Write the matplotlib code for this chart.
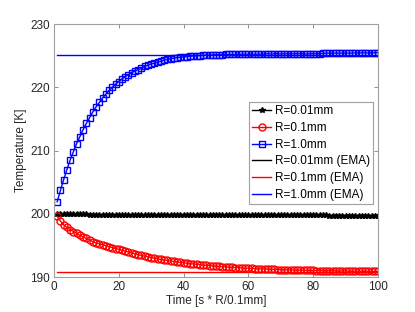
import matplotlib
matplotlib.use("Agg")
import matplotlib.pyplot as plt

plt.rcParams['font.family'] = ['Liberation Sans', 'DejaVu Sans']

# time steps
t = list(range(1, 101))

# R = 0.01 mm
T_001 = [199.9, 199.9, 199.9, 199.9, 199.9, 199.9, 199.9, 199.9, 199.9, 199.9,
         199.88, 199.88, 199.88, 199.88, 199.88, 199.88, 199.87, 199.87, 199.87, 199.87,
         199.86, 199.86, 199.86, 199.86, 199.85, 199.85, 199.85, 199.85, 199.85, 199.85,
         199.84, 199.84, 199.84, 199.84, 199.83, 199.83, 199.83, 199.83, 199.82, 199.82,
         199.82, 199.82, 199.81, 199.81, 199.81, 199.81, 199.8, 199.8, 199.8, 199.8,
         199.8, 199.8, 199.79, 199.79, 199.79, 199.79, 199.79, 199.78, 199.78, 199.78,
         199.78, 199.78, 199.77, 199.77, 199.77, 199.77, 199.77, 199.76, 199.76, 199.76,
         199.76, 199.76, 199.75, 199.75, 199.75, 199.75, 199.75, 199.75, 199.74, 199.74,
         199.74, 199.74, 199.74, 199.74, 199.73, 199.73, 199.73, 199.73, 199.73, 199.73,
         199.72, 199.72, 199.72, 199.72, 199.72, 199.72, 199.71, 199.71, 199.71, 199.71]

# R = 0.1 mm
T_01 = [199.6, 198.85, 198.25, 197.85, 197.5, 197.2, 196.9, 196.6, 196.35, 196.1,
        195.85, 195.6, 195.4, 195.25, 195.1, 194.95, 194.8, 194.65, 194.5, 194.4,
        194.24, 194.09, 193.95, 193.8, 193.67, 193.54, 193.42, 193.3, 193.18, 193.09,
        192.98, 192.89, 192.79, 192.7, 192.62, 192.54, 192.46, 192.39, 192.32, 192.25,
        192.19, 192.12, 192.07, 192.01, 191.96, 191.91, 191.85, 191.81, 191.76, 191.72,
        191.68, 191.64, 191.6, 191.57, 191.53, 191.5, 191.47, 191.44, 191.41, 191.39,
        191.36, 191.34, 191.31, 191.29, 191.27, 191.25, 191.22, 191.21, 191.19, 191.17,
        191.16, 191.14, 191.12, 191.11, 191.09, 191.08, 191.07, 191.05, 191.05, 191.04,
        191.03, 191.02, 191.01, 191.0, 190.99, 190.98, 190.97, 190.96, 190.96, 190.95,
        190.94, 190.94, 190.93, 190.92, 190.92, 190.91, 190.91, 190.9, 190.9, 190.89]

# R = 1.0 mm
T_10 = [201.9, 203.7, 205.4, 207.0, 208.5, 209.8, 211.1, 212.2, 213.3, 214.3,
        215.2, 216.1, 216.9, 217.6, 218.3, 218.9, 219.5, 220.0, 220.5, 220.9,
        221.3, 221.7, 222.0, 222.3, 222.6, 222.8, 223.0, 223.3, 223.5, 223.7,
        223.8, 224.0, 224.1, 224.3, 224.4, 224.5, 224.6, 224.7, 224.75, 224.8,
        224.85, 224.9, 224.95, 225.0, 225.0, 225.05, 225.1, 225.1, 225.1, 225.15,
        225.15, 225.15, 225.2, 225.2, 225.2, 225.2, 225.25, 225.2, 225.25, 225.2,
        225.25, 225.2, 225.25, 225.25, 225.25, 225.3, 225.25, 225.3, 225.3, 225.25,
        225.3, 225.3, 225.25, 225.3, 225.3, 225.3, 225.3, 225.25, 225.3, 225.3,
        225.3, 225.3, 225.35, 225.4, 225.4, 225.4, 225.4, 225.4, 225.4, 225.4,
        225.4, 225.4, 225.45, 225.4, 225.45, 225.45, 225.4, 225.45, 225.45, 225.45]

# EMA steady-state values
ema_001 = 199.8
ema_01 = 190.85
ema_10 = 225.1

fig = plt.figure(figsize=(4.15, 3.12), dpi=100)
ax = fig.add_axes([0.130, 0.112, 0.781, 0.811])

ax.plot(t, T_001, '-*', color='black', ms=4, lw=1, label='R=0.01mm')
ax.plot(t, T_01, '-o', color='red', ms=5, mfc='none', mew=1, lw=1, label='R=0.1mm')
ax.plot(t, T_10, '-s', color='blue', ms=5, mfc='none', mew=1, lw=1, label='R=1.0mm')
ax.plot([t[0], t[-1]], [ema_001, ema_001], color='black', lw=1, label='R=0.01mm (EMA)')
ax.plot([t[0], t[-1]], [ema_01, ema_01], color='red', lw=1, label='R=0.1mm (EMA)')
ax.plot([t[0], t[-1]], [ema_10, ema_10], color='blue', lw=1, label='R=1.0mm (EMA)')

ax.set_xlim(0, 100)
ax.set_ylim(190, 230)
ax.set_xticks([0, 20, 40, 60, 80, 100])
ax.set_yticks([190, 200, 210, 220, 230])
ax.tick_params(direction='in', top=True, right=True, length=3, width=0.6,
               color='#808080', labelsize=8.5, labelcolor='#262626', pad=3)
for s in ax.spines.values():
    s.set_color('#a0a0a0')
    s.set_linewidth(0.8)

ax.set_xlabel('Time [s * R/0.1mm]', fontsize=8.5, color='#262626', labelpad=1)
ax.set_ylabel('Temperature [K]', fontsize=8.5, color='#262626', labelpad=2)

leg = ax.legend(loc='upper right', bbox_to_anchor=(0.985, 0.693), fontsize=8.5,
                frameon=True, fancybox=False, framealpha=1, edgecolor='#a0a0a0',
                handlelength=1.6, handletextpad=0.3, labelspacing=0.4,
                borderpad=0.3, borderaxespad=0)
leg.get_frame().set_linewidth(0.8)

fig.savefig('out.png', dpi=100)
